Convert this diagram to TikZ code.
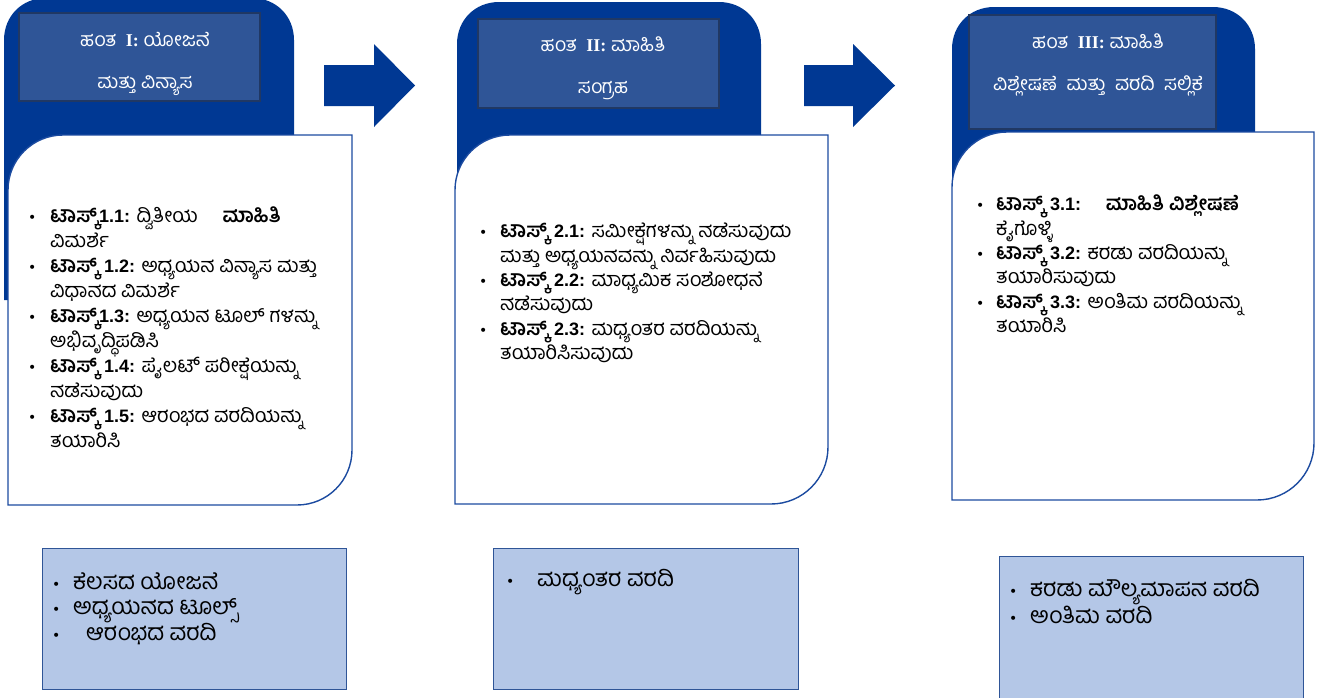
\documentclass[tikz,border=0pt]{standalone}
\usepackage{fontspec}
\setmainfont{Liberation Sans}
\newfontfamily\kn[Script=Kannada]{Hind Mysuru}
\newfontfamily\symf{DejaVu Sans}
\newfontfamily\lser{Liberation Serif}
\definecolor{dkblue}{HTML}{003893}
\definecolor{ttlfill}{HTML}{2F5597}
\definecolor{ttlbord}{HTML}{203864}
\definecolor{wbord}{HTML}{1C4BA0}
\definecolor{ofill}{HTML}{B4C7E7}
\definecolor{obord}{HTML}{2F5597}
\newcommand\LB[1]{{\rmfamily\bfseries\fontsize{18}{20}\selectfont #1}}
\newcommand\KB[1]{{\bfseries #1}}
\newcommand\bl[1]{\makebox[#1][l]{{\symf\fontsize{14}{14}\selectfont •}}}
\newcommand\LS[1]{{\lser\bfseries\fontsize{18}{20}\selectfont #1}}
\tikzset{
  darkp/.style={fill=dkblue},
  wbox/.style={draw=wbord, line width=1.4pt, fill=white},
  ttlbox/.style={draw=ttlbord, line width=1.6pt, fill=ttlfill, inner sep=0, anchor=north west},
  ttltext/.style={text=white, align=center, inner sep=0, font=\kn\fontsize{19.5}{42}\selectfont},
  obox/.style={draw=obord, line width=1.2pt, fill=ofill, inner sep=0, anchor=north west},
  body/.style={anchor=north west, align=left, inner sep=0, font=\kn\fontsize{20}{24.9}\selectfont},
  outt/.style={anchor=north west, align=left, inner sep=0, font=\kn\fontsize{23}{25}\selectfont},
  barrow/.style={fill=dkblue},
}
\begin{document}
\begin{tikzpicture}[x=1pt,y=-1pt]
\useasboundingbox (0,0) rectangle (1338,697);
% dark blue backs
\fill[darkp] (4,300) -- (4,40) .. controls (4,16) and (22,-2) .. (46,-2) -- (252,-2) .. controls (276,-2) and (294,16) .. (294,40) -- (294,300) -- cycle;
\fill[darkp] (457,300) -- (457,44) .. controls (457,20) and (475,2) .. (499,2) -- (719,2) .. controls (743,2) and (761,20) .. (761,44) -- (761,300) -- cycle;
\fill[darkp] (952,300) -- (952,49) .. controls (952,25) and (970,7) .. (994,7) -- (1213,7) .. controls (1237,7) and (1255,25) .. (1255,49) -- (1255,300) -- cycle;
% title boxes
\node[ttlbox, minimum width=241pt, minimum height=88pt] (t1) at (18,12) {};
\node[ttlbox, minimum width=241pt, minimum height=89pt] (t2) at (477,18) {};
\node[ttlbox, minimum width=247pt, minimum height=114pt] (t3) at (968,14) {};
\node[ttltext] (t1txt) at (145,63.5) {ಹಂತ\ \ \LS{I:} ಯೋಜನೆ\\ಮತ್ತು ವಿನ್ಯಾಸ};
\node[ttltext] (t2txt) at (603,68.5) {ಹಂತ\ \ \LS{II:} ಮಾಹಿತಿ\\ಸಂಗ್ರಹ};
\node[ttltext] (t3txt) at (1098,64.5) {ಹಂತ\ \ \LS{III:} ಮಾಹಿತಿ\\ವಿಶ್ಲೇಷಣೆ\ \ ಮತ್ತು\ \ ವರದಿ\ \ ಸಲ್ಲಿಕೆ};
% white boxes
\draw[wbox] (8,505) -- (8,190) .. controls (8,159.6) and (32.6,135) .. (63,135) -- (352,135) -- (352,450) .. controls (352,480.4) and (327.4,505) .. (297,505) -- cycle;
\draw[wbox] (455,504) -- (455,190) .. controls (455,159.6) and (479.6,135) .. (510,135) -- (828,135) -- (828,447) .. controls (828,478.5) and (802.5,504) .. (771,504) -- cycle;
\draw[wbox] (952,500) -- (952,187) .. controls (952,156.6) and (976.6,132) .. (1007,132) -- (1314,132) -- (1314,443) .. controls (1314,474.5) and (1288.5,500) .. (1257,500) -- cycle;
% body texts
\node[body] (b1) at (28,207) {%
\bl{22pt}\KB{ಟಾಸ್ಕ್}\LB{1.1:} ದ್ವಿತೀಯ\quad\ \KB{ಮಾಹಿತಿ}\\
\hspace*{22pt}ವಿಮರ್ಶೆ\\
\bl{22pt}\KB{ಟಾಸ್ಕ್} \LB{1.2:} ಅಧ್ಯಯನ ವಿನ್ಯಾಸ ಮತ್ತು\\
\hspace*{22pt}ವಿಧಾನದ ವಿಮರ್ಶೆ\\
\bl{22pt}\KB{ಟಾಸ್ಕ್}\LB{1.3:} ಅಧ್ಯಯನ ಟೂಲ್ ಗಳನ್ನು\\
\hspace*{22pt}ಅಭಿವೃದ್ಧಿಪಡಿಸಿ\\
\bl{22pt}\KB{ಟಾಸ್ಕ್} \LB{1.4:} ಪೈಲಟ್ ಪರೀಕ್ಷೆಯನ್ನು\\
\hspace*{22pt}ನಡೆಸುವುದು\\
\bl{22pt}\KB{ಟಾಸ್ಕ್} \LB{1.5:} ಆರಂಭದ ವರದಿಯನ್ನು\\
\hspace*{22pt}ತಯಾರಿಸಿ};
\node[body, font=\kn\fontsize{20}{24.3}\selectfont] (b2) at (479,223) {%
\bl{21pt}\KB{ಟಾಸ್ಕ್} \LB{2.1:} ಸಮೀಕ್ಷೆಗಳನ್ನು ನಡೆಸುವುದು\\
\hspace*{21pt}ಮತ್ತು ಅಧ್ಯಯನವನ್ನು ನಿರ್ವಹಿಸುವುದು\\
\bl{21pt}\KB{ಟಾಸ್ಕ್} \LB{2.2:} ಮಾಧ್ಯಮಿಕ ಸಂಶೋಧನೆ\\
\hspace*{21pt}ನಡೆಸುವುದು\\
\bl{21pt}\KB{ಟಾಸ್ಕ್} \LB{2.3:} ಮಧ್ಯಂತರ ವರದಿಯನ್ನು\\
\hspace*{21pt}ತಯಾರಿಸಿಸುವುದು};
\node[body, font=\kn\fontsize{20}{24.3}\selectfont] (b3) at (976,195) {%
\bl{20pt}\KB{ಟಾಸ್ಕ್} \LB{3.1:}\quad\ \KB{ಮಾಹಿತಿ ವಿಶ್ಲೇಷಣೆ}\\
\hspace*{20pt}ಕೈಗೊಳ್ಳಿ\\
\bl{20pt}\KB{ಟಾಸ್ಕ್} \LB{3.2:} ಕರಡು ವರದಿಯನ್ನು\\
\hspace*{20pt}ತಯಾರಿಸುವುದು\\
\bl{20pt}\KB{ಟಾಸ್ಕ್} \LB{3.3:} ಅಂತಿಮ ವರದಿಯನ್ನು\\
\hspace*{20pt}ತಯಾರಿಸಿ};
% arrows
\fill[barrow] (324,65) -- (374,65) -- (374,44) -- (415,85.5) -- (374,127) -- (374,106) -- (324,106) -- cycle;
\fill[barrow] (804,65) -- (853,65) -- (853,44) -- (895,85.5) -- (853,127) -- (853,106) -- (804,106) -- cycle;
% output boxes
\node[obox, minimum width=304pt, minimum height=141pt] (o1) at (42,548) {};
\node[obox, minimum width=305pt, minimum height=141pt] (o2) at (493,548) {};
\node[obox, minimum width=304pt, minimum height=142pt] (o3) at (999,556) {};
\node[outt] (o1txt) at (52,572) {%
\bl{21pt}ಕೆಲಸದ ಯೋಜನೆ\\
\bl{21pt}ಅಧ್ಯಯನದ ಟೂಲ್ಸ್\\
\bl{34pt}ಆರಂಭದ ವರದಿ};
\node[outt] (o2txt) at (506,569) {%
\bl{31pt}ಮಧ್ಯಂತರ ವರದಿ};
\node[outt, font=\kn\fontsize{23}{27}\selectfont] (o3txt) at (1009,579) {%
\bl{21pt}ಕರಡು ಮೌಲ್ಯಮಾಪನ ವರದಿ\\
\bl{21pt}ಅಂತಿಮ ವರದಿ};
\end{tikzpicture}
\end{document}
